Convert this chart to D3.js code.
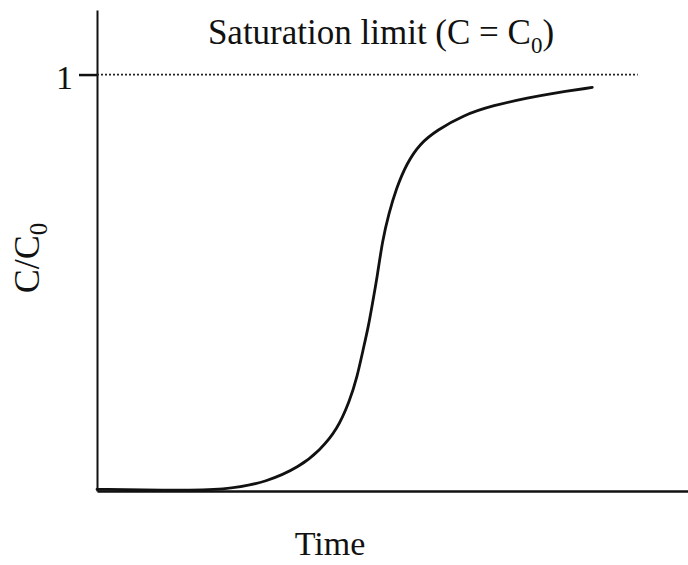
<!DOCTYPE html>
<html lang="en">
<head>
    <meta charset="UTF-8">
    <title>Breakthrough curve</title>
    <style>
        body {
            margin: 0;
            background: #fff;
        }

        text {
            font-family: "Liberation Serif", "DejaVu Serif", serif;
            fill: #111;
        }

        .axis path,
        .axis line {
            stroke: #111;
        }
    </style>
</head>
<body>
<div id="chart"></div>

<script src="https://d3js.org/d3.v7.min.js"></script>
<script>

    // time (arbitrary units, 0..100) and relative concentration C/C0
    var timeVals = [0, 11, 22, 28.8, 34.3, 37.7, 40.6, 42.8, 44.0, 45.0, 45.9, 46.7, 47.4, 48.3, 49.4, 50.6, 52.4, 54.7, 57.5, 61.9, 67.0, 73.3, 76.6, 83.8]
    var concVals = [0.004, 0.002, 0.002, 0.022, 0.058, 0.098, 0.146, 0.218, 0.273, 0.338, 0.393, 0.458, 0.513, 0.602, 0.667, 0.725, 0.787, 0.835, 0.866, 0.902, 0.926, 0.945, 0.954, 0.969]
    var yTicks = [1]
    var limitEnd = 91.5   // where the dotted saturation line stops

    var width = 688, height = 565

    var svg = d3.select("#chart").append("svg")
        .attr("width", width)
        .attr("height", height)

    var x = d3.scaleLinear().domain([0, 100]).range([97, 688])
    var y = d3.scaleLinear().domain([0, 1.155]).range([491, 10])

    // y axis
    svg.append("g")
        .attr("class", "axis")
        .attr("transform", "translate(" + x(0) + ",0)")
        .call(d3.axisLeft(y).tickValues(yTicks).tickSize(18).tickSizeOuter(0).tickPadding(6)
            .tickFormat(d3.format("d")))
        .call(function (g) {
            g.select(".domain").attr("stroke-width", 2)
            g.selectAll(".tick line").attr("stroke-width", 2.5)
            g.selectAll(".tick text")
                .attr("font-size", 34)
                .attr("font-family", "Liberation Serif")
                .attr("dy", "0.42em")
        })

    // x axis, no ticks
    svg.append("g")
        .attr("class", "axis")
        .attr("transform", "translate(0," + y(0) + ")")
        .call(d3.axisBottom(x).tickValues([]).tickSizeOuter(0))
        .call(function (g) {
            g.select(".domain").attr("stroke-width", 2.6)
        })

    // saturation limit
    svg.append("line")
        .attr("x1", x(0))
        .attr("x2", x(limitEnd))
        .attr("y1", y(1))
        .attr("y2", y(1))
        .attr("stroke", "#222")
        .attr("stroke-width", 1.8)
        .attr("stroke-dasharray", "2,2")

    var line = d3.line()
        .x(function (d, i) { return x(timeVals[i]) })
        .y(function (d) { return y(d) })
        .curve(d3.curveBasis)

    svg.append("path")
        .datum(concVals)
        .attr("d", line)
        .attr("fill", "none")
        .attr("stroke", "#111")
        .attr("stroke-width", 2.8)
        .attr("stroke-linecap", "round")

    // title
    var title = svg.append("text")
        .attr("x", 381)
        .attr("y", 44)
        .attr("text-anchor", "middle")
        .attr("font-size", 35)
    title.append("tspan").text("Saturation limit (C = C")
    title.append("tspan").attr("font-size", 23).attr("dy", 9).text("0")
    title.append("tspan").attr("dy", -9).text(")")

    // x label
    svg.append("text")
        .attr("x", 330)
        .attr("y", 555)
        .attr("text-anchor", "middle")
        .attr("font-size", 34)
        .text("Time")

    // y label
    var ylab = svg.append("text")
        .attr("transform", "translate(39,258) rotate(-90)")
        .attr("text-anchor", "middle")
        .attr("font-size", 36)
    ylab.append("tspan").text("C/C")
    ylab.append("tspan").attr("font-size", 25).attr("dy", 8).text("0")

</script>
</body>
</html>
